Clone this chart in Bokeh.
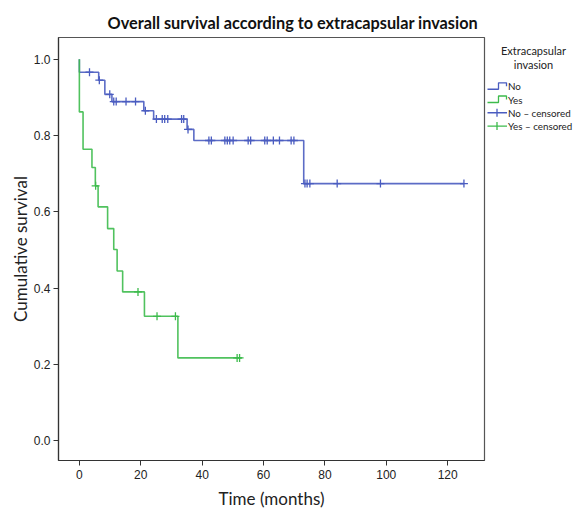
import numpy as np
from bokeh.plotting import figure
from bokeh.layouts import row
from bokeh.models import Range1d, FixedTicker, NumeralTickFormatter
from bokeh.core.properties import value
from bokeh.embed import file_html
from bokeh.resources import INLINE

# ---- data ----
no_times = [0, 0, 6.3, 8.3, 10.6, 21.0, 24.2, 35.1, 37.3, 73.1, 125.3]
no_surv = [1.0, 0.966, 0.945, 0.908, 0.889, 0.865, 0.843, 0.816, 0.787, 0.674, 0.674]
no_censored = [3.3, 6.5, 9.9, 11.2, 12.0, 15.2, 18.3, 21.5, 25.1, 27.0, 27.8, 28.8,
               33.3, 34.0, 35.4, 42.2, 43.0, 47.4, 48.2, 49.0, 50.1, 55.0, 55.8,
               60.4, 61.2, 63.2, 65.2, 69.0, 69.9, 73.5, 74.2, 75.1, 84.0, 98.1, 125.3]

yes_times = [0, 0, 1.2, 4.1, 5.2, 6.1, 9.2, 11.2, 12.3, 14.1, 21.2, 32.1, 53.0]
yes_surv = [1.0, 0.862, 0.764, 0.716, 0.668, 0.613, 0.556, 0.501, 0.445, 0.390, 0.326, 0.217, 0.217]
yes_censored = [5.3, 19.1, 25.3, 31.3, 51.4, 52.2]

x_ticks = [0, 20, 40, 60, 80, 100, 120]
y_ticks = [0.0, 0.2, 0.4, 0.6, 0.8, 1.0]

title_text = "Overall survival according to extracapsular invasion"
legend_title = ["Extracapsular", "invasion"]
labels = ["No", "Yes", "No \u2013 censored", "Yes \u2013 censored"]

BLUE = "#4a5cc0"
GREEN = "#3dbb4c"


def surv_at(times, surv, t):
    idx = np.searchsorted(np.array(times), t, side="right") - 1
    return [surv[i] for i in idx]


p = figure(width=486, height=511, output_backend="svg", toolbar_location=None,
           x_range=Range1d(-6.8, 132), y_range=Range1d(-0.052, 1.057),
           min_border_left=58, min_border_right=2, min_border_top=37, min_border_bottom=49,
           title=title_text)
p.title.align = "left"
p.title.offset = 49
p.title.text_font = "Lato"
p.title.text_font_style = "bold"
p.title.text_font_size = "16.3px"
p.title.text_color = "#111111"
p.title.standoff = 11
p.grid.visible = False
p.background_fill_color = "white"
p.border_fill_color = "white"
p.outline_line_color = "#555555"
p.outline_line_width = 1.2

for ax in (p.xaxis[0], p.yaxis[0]):
    ax.axis_line_color = "#333333"
    ax.axis_line_width = 1.2
    ax.major_tick_line_color = "#333333"
    ax.major_tick_in = 0
    ax.major_tick_out = 5
    ax.minor_tick_line_color = None
    ax.major_label_text_font = "Liberation Sans"
    ax.major_label_text_font_size = "12px"
    ax.major_label_text_color = "#222222"
    ax.axis_label_text_font = "Lato"
    ax.axis_label_text_font_style = "normal"
    ax.axis_label_text_font_size = "17px"
    ax.axis_label_text_color = "#222222"

p.xaxis.ticker = FixedTicker(ticks=x_ticks)
p.yaxis.ticker = FixedTicker(ticks=y_ticks)
p.yaxis.formatter = NumeralTickFormatter(format="0.0")
p.xaxis.axis_label = "Time (months)"
p.yaxis.axis_label = "Cumulative survival"
p.xaxis.major_label_standoff = 4
p.yaxis.major_label_standoff = 3
p.xaxis.axis_label_standoff = 6
p.yaxis.axis_label_standoff = 0

p.step(no_times, no_surv, mode="after", line_color=BLUE, line_width=1.6, line_alpha=0.9)
p.step(yes_times, yes_surv, mode="after", line_color=GREEN, line_width=1.6, line_alpha=0.9)
p.scatter(no_censored, surv_at(no_times, no_surv, no_censored), marker="cross",
          size=8, line_color=BLUE, line_width=1.3)
p.scatter(yes_censored, surv_at(yes_times, yes_surv, yes_censored), marker="cross",
          size=8, line_color=GREEN, line_width=1.3)

# ---- legend panel: frame is aligned with the main frame (canvas y 37..462) ----
lg = figure(width=88, height=511, output_backend="svg", toolbar_location=None,
            x_range=Range1d(0, 88), y_range=Range1d(462, 37),
            min_border=0, outline_line_color=None)
lg.axis.visible = False
lg.grid.visible = False
lg.background_fill_color = "white"
lg.border_fill_color = "white"

lg.text(x=[47, 47], y=[50.5, 64.5], text=legend_title, text_font_size="11px",
        text_font=value("Lato"), text_align="center", text_baseline="middle",
        text_color="#222222")
item_y = [86.0, 99.3, 112.6, 126.0]
lg.text(x=[21.5] * 4, y=item_y, text=labels, text_font_size="9.8px",
        text_font=value("Lato"), text_align="left", text_baseline="middle",
        text_color="#222222")
colors = [BLUE, GREEN]
for i in range(2):
    yc = item_y[i]
    lg.line([1, 12, 12, 20, 20], [yc + 3, yc + 3, yc - 3.5, yc - 3.5, yc],
            line_color=colors[i], line_width=1.3)
    yc2 = item_y[i + 2]
    lg.line([1, 20.5], [yc2, yc2], line_color=colors[i], line_width=1.3)
    lg.line([10.5, 10.5], [yc2 - 4, yc2 + 4], line_color=colors[i], line_width=1.3)

layout = row(p, lg, spacing=0)
open("out.html", "w").write(file_html(layout, INLINE))
